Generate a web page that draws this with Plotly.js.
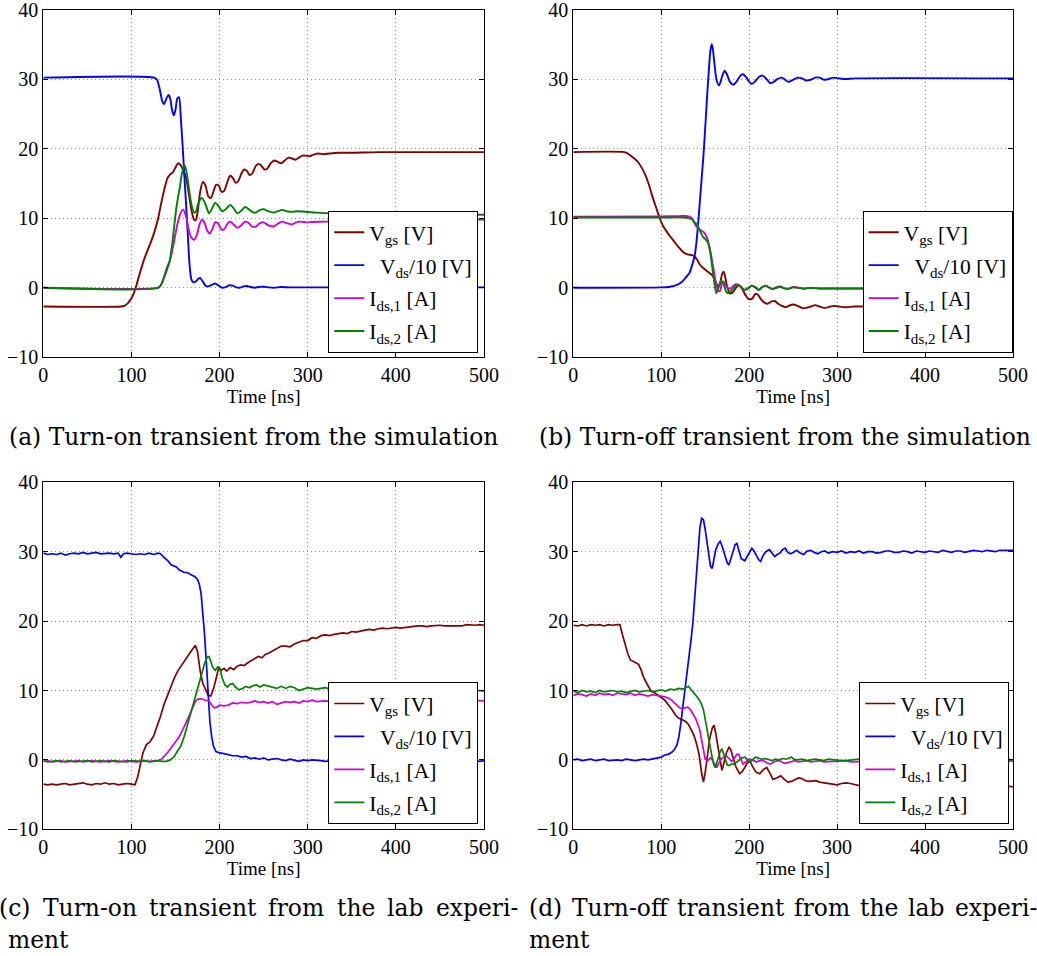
<!DOCTYPE html>
<html><head><meta charset="utf-8">
<script src="https://cdn.plot.ly/plotly-3.0.1.min.js"></script>
<style>html,body{margin:0;padding:0;background:#fff;} #chart{width:1037px;height:956px;}</style>
</head><body><div id="chart"></div>
<script>
// ---------- data (time in ns, value) ----------
const seriesNames = ['V<sub>gs</sub> [V]', '\u00a0\u00a0V<sub>ds</sub>/10 [V]', 'I<sub>ds,1</sub> [A]', 'I<sub>ds,2</sub> [A]'];
const seriesColors = ['#800000', '#0000ff', '#d000d0', '#008000'];
const xTicks = [0, 100, 200, 300, 400, 500];
const yTicks = [-10, 0, 10, 20, 30, 40];
const xTitle = 'Time [ns]';
const captions = [
  ['(a) Turn-on transient from the simulation'],
  ['(b) Turn-off transient from the simulation'],
  ['(c) Turn-on transient from the lab experi-', 'ment'],
  ['(d) Turn-off transient from the lab experi-', 'ment']
];

// (a) simulation, turn-on
const vgsA = [[0,-2.7],[88,-2.7],[92,-2.6],[96,-2.2],[100,-1.5],[103,-0.7],[106,0.5],[110,2.3],[115,4.3],[120,5.9],[125,7.6],[130,9.8],[134,12.3],[138,14.5],[141,15.8],[144,16.3],[147,16.6],[150,17.3],[153,17.9],[156,17.6],[159,16.8],[162,15.8],[165,13.6],[168,11.2],[171,9.8],[173,9.7],[175,10.8],[178,13.8],[181,15.2],[184,14.7],[187,13.2],[190,12.9],[193,13.8],[196,14.8],[199,14.7],[202,13.8],[205,13.9],[209,15.3],[212,16.1],[215,15.8],[218,15.1],[221,15.3],[225,16.5],[228,17.0],[231,16.8],[234,16.2],[237,16.4],[241,17.5],[244,17.8],[247,17.6],[251,17.0],[254,17.1],[258,17.9],[262,18.3],[266,18.1],[270,17.9],[274,18.3],[278,18.7],[282,18.6],[286,18.4],[290,18.7],[294,19.0],[298,19.0],[302,18.9],[306,19.1],[312,19.3],[318,19.2],[325,19.3],[335,19.4],[350,19.4],[380,19.5],[500,19.5]];
const vdsA = [[0,30.2],[126,30.2],[129,29.9],[132,28.6],[135,26.8],[137,26.4],[140,27.3],[142,27.7],[144,27.2],[146,25.6],[148,24.8],[150,25.6],[152,27.2],[154,27.4],[156,24.5],[158,20.5],[160,16.2],[162,12.0],[164,7.5],[166,3.2],[168,1.2],[170,0.8],[173,0.9],[176,1.3],[178,1.4],[181,0.9],[184,0.3],[187,0.2],[191,0.4],[195,0.6],[199,0.3],[203,0.0],[207,0.1],[211,0.35],[215,0.3],[219,0.05],[223,0.0],[227,0.2],[231,0.25],[235,0.1],[240,0.0],[245,0.12],[250,0.15],[256,0.05],[262,0.0],[270,0.1],[280,0.05],[300,0.05],[500,0.05]];
const ids1A = [[0,0],[130,0],[133,0.3],[136,1.2],[140,2.8],[144,4.1],[147,5.8],[150,7.8],[153,9.6],[156,10.8],[159,11.2],[162,10.2],[165,8.3],[168,7.2],[171,6.9],[174,7.5],[177,9.0],[180,9.8],[183,9.3],[186,8.2],[189,7.8],[192,8.5],[195,9.4],[198,9.3],[202,8.4],[205,8.4],[209,9.2],[212,9.5],[216,9.1],[220,8.6],[224,8.9],[229,9.5],[233,9.3],[237,8.8],[241,8.8],[246,9.3],[250,9.4],[255,9.0],[261,8.8],[266,9.2],[271,9.5],[276,9.3],[282,9.1],[287,9.4],[292,9.5],[298,9.4],[305,9.45],[320,9.5],[350,9.6],[400,9.7],[500,9.8]];
const ids2A = [[0,0],[131,0],[134,0.5],[137,1.4],[140,2.5],[143,3.6],[146,6.0],[148,8.3],[151,11.5],[153,13.1],[155,14.5],[157,16.2],[160,17.6],[162,17.0],[165,14.5],[168,12.0],[171,10.8],[173,10.9],[176,12.2],[180,12.9],[184,12.0],[188,10.7],[191,11.3],[195,12.2],[199,11.7],[203,11.0],[207,11.3],[212,11.9],[216,11.4],[220,10.7],[224,11.0],[229,11.6],[233,11.3],[237,10.9],[241,10.8],[246,11.2],[250,11.3],[255,11.0],[261,10.8],[266,11.0],[271,11.2],[276,11.0],[282,10.9],[288,11.0],[295,10.95],[310,10.8],[330,10.7],[400,10.6],[500,10.5]];

// (b) simulation, turn-off
const vgsB = [[0,19.5],[58,19.5],[62,19.3],[66,18.9],[70,18.5],[74,18.0],[78,17.2],[82,16.2],[86,14.8],[90,13.1],[94,11.6],[98,10.1],[102,8.9],[106,8.1],[110,7.4],[115,6.6],[120,5.8],[125,5.1],[130,4.8],[135,4.7],[138,4.5],[141,4.0],[144,3.3],[147,2.9],[150,2.6],[153,2.3],[157,1.9],[160,1.4],[163,0.5],[165,0.1],[167,0.6],[169,1.9],[171,2.3],[173,1.4],[175,0.1],[178,-0.8],[181,-0.7],[184,-0.2],[187,0.3],[190,0.2],[193,-0.4],[196,-1.1],[199,-1.6],[203,-1.6],[207,-0.9],[210,-1.0],[213,-1.6],[217,-2.1],[221,-2.3],[225,-2.0],[229,-1.9],[233,-2.3],[237,-2.6],[241,-2.8],[245,-2.6],[250,-2.4],[255,-2.6],[260,-2.9],[265,-2.9],[270,-2.7],[275,-2.5],[280,-2.7],[285,-2.9],[290,-2.8],[296,-2.6],[302,-2.7],[310,-2.8],[320,-2.7],[400,-2.7],[500,-2.7]];
const vdsB = [[0,0],[100,0.05],[110,0.15],[118,0.4],[124,0.9],[128,1.5],[132,2.1],[135,3.2],[138,4.6],[140,6.5],[142,9.3],[144,12.5],[146,15.8],[148,19.0],[150,23.0],[152,27.2],[154,31.0],[156,34.2],[157.5,35.0],[159,34.0],[161,31.6],[163,29.8],[166,29.1],[169,30.3],[172,31.2],[175,30.6],[178,29.6],[182,29.2],[186,29.7],[190,30.5],[193,30.7],[197,30.2],[200,29.6],[203,29.3],[207,29.7],[211,30.3],[215,30.5],[219,30.1],[224,29.4],[228,29.6],[232,30.0],[237,30.2],[241,29.9],[245,29.6],[250,29.9],[255,30.2],[260,30.1],[265,29.8],[270,29.9],[275,30.2],[280,30.2],[285,29.9],[290,30.0],[296,30.2],[302,30.1],[310,30.0],[320,30.1],[500,30.1]];
const ids1B = [[0,10.2],[100,10.25],[120,10.3],[130,10.3],[134,10.1],[137,9.5],[140,8.8],[143,8.4],[146,8.2],[149,7.9],[152,7.2],[155,5.8],[157,4.5],[159,3.0],[161,1.5],[163,0.2],[165,-0.5],[167,-0.4],[169,0.6],[171,0.9],[173,0.4],[176,-0.1],[179,-0.1],[182,0.3],[185,0.5],[188,0.4],[191,0.0],[195,-0.3],[199,0.0],[203,0.3],[207,0.0],[211,-0.3],[215,0.1],[219,0.3],[223,0.0],[227,-0.2],[231,0.1],[235,0.2],[240,-0.1],[245,-0.1],[250,0.1],[256,0.0],[262,-0.1],[270,0.0],[280,-0.1],[300,-0.1],[500,-0.1]];
const ids2B = [[0,10.1],[100,10.1],[125,10.1],[131,10.0],[135,9.8],[138,9.4],[141,9.0],[144,8.2],[147,7.4],[150,7.0],[153,6.5],[155,5.6],[157,3.9],[159,2.0],[161,0.2],[162.5,-0.8],[164,-0.4],[166,0.5],[168,1.0],[170,0.8],[172,0.1],[174,-0.6],[176,-0.8],[179,-0.5],[182,-0.1],[185,0.3],[188,0.4],[191,0.1],[195,-0.3],[199,-0.1],[203,0.3],[207,0.1],[211,-0.3],[215,0.1],[219,0.3],[223,0.0],[227,-0.2],[231,0.0],[235,0.15],[240,-0.1],[245,-0.15],[250,0.05],[256,0.0],[262,-0.15],[270,-0.05],[280,-0.1],[300,-0.1],[500,-0.1]];

// (c) lab, turn-on
const vgsC = [[0,-3.5],[5,-3.6],[10,-3.5],[15,-3.6],[20,-3.5],[25,-3.4],[30,-3.6],[35,-3.5],[40,-3.5],[45,-3.3],[50,-3.5],[55,-3.6],[60,-3.4],[65,-3.5],[70,-3.3],[75,-3.5],[80,-3.4],[85,-3.6],[90,-3.5],[95,-3.4],[100,-3.5],[104,-3.6],[107,-2.5],[110,-0.5],[113,1.0],[117,2.2],[121,2.6],[125,3.4],[129,4.8],[133,6.3],[137,8.0],[141,9.4],[145,10.8],[149,11.9],[153,12.9],[157,13.7],[161,14.3],[165,15.1],[169,15.9],[172.5,16.5],[175,15.6],[178,12.8],[181,11.0],[184,10.2],[187,9.3],[190,9.2],[193,10.2],[196,11.7],[199,13.3],[202,12.9],[205,13.2],[208,12.8],[212,13.3],[216,13.0],[220,13.5],[224,13.7],[228,13.6],[232,14.0],[236,14.3],[240,14.5],[244,14.9],[248,14.7],[252,15.2],[256,15.4],[260,15.7],[265,16.0],[270,16.4],[275,16.4],[280,16.3],[285,16.7],[290,17.0],[295,17.2],[300,17.2],[305,17.6],[310,17.5],[315,17.9],[320,18.0],[325,17.9],[330,18.1],[335,18.2],[340,18.3],[345,18.2],[350,18.5],[355,18.4],[360,18.6],[365,18.7],[370,18.8],[375,18.7],[380,18.9],[385,19.0],[390,18.9],[395,19.0],[400,19.1],[405,19.0],[410,19.1],[415,19.2],[420,19.2],[425,19.3],[430,19.3],[435,19.2],[440,19.3],[445,19.4],[450,19.4],[455,19.3],[460,19.3],[465,19.4],[470,19.4],[475,19.3],[480,19.5],[485,19.4],[490,19.4],[495,19.5],[500,19.4]];
const vdsC = [[0,29.8],[5,29.6],[10,29.7],[15,29.6],[20,29.8],[25,29.5],[30,29.7],[35,29.8],[40,29.7],[45,29.9],[50,29.7],[55,29.8],[60,29.9],[65,29.7],[70,29.8],[75,29.8],[80,29.7],[85,29.8],[88,29.2],[91,29.7],[95,29.8],[100,29.7],[105,29.6],[110,29.7],[115,29.6],[120,29.8],[125,29.6],[130,29.8],[133,29.7],[136,29.3],[139,29.0],[142,28.6],[145,28.1],[148,27.9],[151,27.8],[154,27.4],[157,27.2],[160,27.0],[163,27.0],[166,26.8],[169,26.7],[172,26.4],[175,26.0],[177,25.3],[179,24.0],[181,21.5],[183,18.0],[185,14.0],[187,9.0],[189,5.5],[191,3.4],[193,2.0],[196,1.2],[200,1.0],[205,0.9],[210,0.7],[215,0.6],[220,0.6],[225,0.4],[230,0.5],[235,0.2],[240,0.3],[245,0.1],[250,0.3],[255,0.0],[260,0.1],[265,0.2],[270,0.0],[275,-0.1],[280,0.1],[285,-0.1],[290,-0.2],[295,0.0],[300,-0.1],[305,0.0],[310,0.0],[315,-0.1],[320,-0.2],[325,-0.1],[330,-0.1],[335,0.0],[340,0.0],[345,-0.2],[350,-0.1],[355,-0.1],[360,-0.2],[365,0.0],[370,0.0],[375,-0.1],[380,-0.1],[385,-0.2],[390,-0.2],[395,-0.1],[400,-0.1],[405,0.0],[410,0.0],[415,-0.1],[420,-0.1],[425,-0.2],[430,-0.2],[435,-0.1],[440,-0.1],[445,0.0],[450,0.0],[455,-0.1],[460,-0.1],[465,-0.2],[470,-0.1],[475,-0.1],[480,-0.2],[485,-0.1],[490,-0.1],[495,-0.2],[500,-0.1]];
const ids1C = [[0,-0.2],[5,-0.1],[10,-0.3],[15,-0.2],[20,-0.1],[25,-0.3],[30,-0.2],[35,-0.2],[40,-0.1],[45,-0.3],[50,-0.2],[55,-0.1],[60,-0.2],[65,-0.3],[70,-0.2],[75,-0.1],[80,-0.2],[85,-0.3],[90,-0.2],[95,-0.1],[100,-0.2],[105,-0.3],[110,-0.2],[115,-0.1],[120,-0.2],[125,-0.2],[130,-0.1],[134,0.1],[138,0.6],[142,1.2],[146,1.9],[150,2.6],[154,3.3],[158,4.3],[162,5.3],[166,6.5],[170,7.7],[173,8.5],[176,8.8],[180,8.8],[184,8.6],[188,8.5],[191,7.9],[194,7.5],[197,7.6],[200,7.9],[205,7.8],[210,7.9],[215,8.2],[220,8.1],[225,8.3],[230,8.2],[235,8.3],[240,8.5],[245,8.3],[250,8.4],[255,8.2],[260,8.4],[265,8.0],[270,8.2],[275,8.4],[280,8.3],[285,8.4],[290,8.2],[295,8.5],[300,8.4],[305,8.6],[310,8.4],[315,8.5],[320,8.5],[325,8.4],[330,8.4],[335,8.6],[340,8.6],[345,8.4],[350,8.5],[355,8.5],[360,8.4],[365,8.6],[370,8.6],[375,8.5],[380,8.5],[385,8.6],[390,8.6],[395,8.4],[400,8.5],[405,8.5],[410,8.4],[415,8.6],[420,8.6],[425,8.5],[430,8.5],[435,8.6],[440,8.6],[445,8.4],[450,8.5],[455,8.5],[460,8.4],[465,8.6],[470,8.6],[475,8.5],[480,8.5],[485,8.6],[490,8.6],[495,8.5],[500,8.5]];
const ids2C = [[0,-0.1],[5,-0.3],[10,-0.2],[15,-0.1],[20,-0.3],[25,-0.2],[30,-0.1],[35,-0.3],[40,-0.2],[45,-0.2],[50,-0.1],[55,-0.3],[60,-0.2],[65,-0.1],[70,-0.2],[75,-0.3],[80,-0.1],[85,-0.2],[90,-0.2],[95,-0.3],[100,-0.1],[105,-0.2],[110,-0.2],[115,-0.1],[120,-0.3],[125,-0.2],[130,-0.1],[135,-0.2],[140,-0.2],[144,0.0],[148,0.4],[152,1.2],[156,2.0],[160,3.4],[164,5.2],[168,7.0],[172,8.6],[176,10.5],[180,12.4],[183,13.9],[186,14.8],[188,14.9],[190,14.2],[192,13.4],[195,12.9],[198,13.4],[200,13.3],[203,11.8],[206,10.8],[209,10.5],[212,10.9],[215,11.0],[218,10.5],[222,10.1],[226,10.3],[230,10.6],[234,10.4],[238,10.7],[242,10.8],[246,10.5],[250,10.8],[255,10.6],[260,10.4],[265,10.3],[270,10.6],[275,10.3],[280,10.6],[285,10.4],[290,10.0],[295,10.2],[300,10.4],[305,10.3],[310,10.2],[315,10.3],[320,10.4],[325,10.2],[330,10.3],[335,10.2],[340,10.1],[345,10.3],[350,10.3],[355,10.1],[360,10.2],[365,10.3],[370,10.4],[375,10.2],[380,10.2],[385,10.0],[390,10.1],[395,10.2],[400,10.3],[405,10.1],[410,10.2],[415,10.1],[420,10.0],[425,10.2],[430,10.2],[435,10.0],[440,10.1],[445,10.2],[450,10.2],[455,10.0],[460,10.0],[465,10.1],[470,10.1],[475,9.9],[480,10.0],[485,10.0],[490,9.9],[495,10.0],[500,9.9]];

// (d) lab, turn-off
const vgsD = [[0,19.4],[5,19.3],[10,19.5],[15,19.3],[20,19.5],[25,19.4],[30,19.5],[35,19.3],[40,19.5],[45,19.4],[50,19.5],[53,19.5],[56,18.0],[59,16.6],[62,15.3],[65,14.4],[68,14.2],[71,14.1],[74,13.8],[77,13.0],[80,11.9],[84,10.9],[88,10.0],[92,9.7],[96,9.4],[100,9.0],[104,8.6],[108,8.0],[112,7.3],[116,6.5],[120,6.0],[124,5.8],[128,5.5],[131,5.1],[134,4.4],[137,3.6],[140,2.4],[143,0.8],[146,-2.0],[148,-3.2],[150,-1.8],[152,0.3],[155,3.0],[158,4.6],[160,5.0],[162,3.8],[165,1.5],[167,-0.6],[169,-1.5],[171,-0.6],[174,1.0],[177,1.8],[179,1.5],[182,0.2],[185,-1.0],[189,-2.0],[192,-1.7],[195,-1.1],[198,-0.4],[201,-0.2],[204,-1.0],[208,-1.8],[212,-2.0],[216,-1.4],[220,-1.1],[224,-2.0],[227,-2.8],[231,-2.6],[236,-2.3],[240,-2.8],[244,-3.2],[248,-3.1],[252,-2.8],[256,-2.6],[260,-2.7],[264,-3.0],[268,-3.1],[272,-3.0],[276,-3.0],[280,-3.2],[285,-3.3],[290,-3.4],[295,-3.5],[300,-3.6],[305,-3.4],[310,-3.3],[315,-3.4],[320,-3.6],[325,-3.7],[330,-3.5],[335,-3.6],[340,-3.6],[345,-3.5],[350,-3.7],[355,-3.7],[360,-3.6],[365,-3.6],[370,-3.7],[375,-3.8],[380,-3.6],[385,-3.7],[390,-3.8],[395,-3.7],[400,-3.7],[405,-3.6],[410,-3.6],[415,-3.7],[420,-3.8],[425,-3.7],[430,-3.7],[435,-3.8],[440,-3.8],[445,-3.6],[450,-3.7],[455,-3.8],[460,-3.8],[465,-3.7],[470,-3.7],[475,-3.8],[480,-3.8],[485,-3.7],[490,-3.7],[495,-3.8],[500,-3.9]];
const vdsD = [[0,0.0],[5,0.1],[10,-0.1],[15,0.0],[20,0.1],[25,-0.1],[30,0.0],[35,0.1],[40,-0.1],[45,0.0],[50,0.0],[55,-0.1],[60,0.1],[65,0.0],[70,-0.1],[75,0.0],[80,0.1],[85,0.0],[90,0.1],[95,0.2],[100,0.4],[104,0.7],[108,0.8],[112,1.1],[115,1.5],[118,2.2],[120,3.3],[122,5.0],[124,7.0],[126,8.9],[128,10.9],[130,12.8],[132,14.9],[134,17.4],[136,19.8],[138,23.6],[140,27.3],[142,30.8],[144,33.5],[146,34.8],[148,34.6],[150,33.2],[152,31.2],[154,29.4],[156,27.9],[158,27.6],[160,28.8],[162,30.3],[165,31.2],[167,31.5],[169,30.9],[172,29.5],[175,28.4],[177,28.1],[179,28.9],[182,30.2],[184,31.0],[186,31.2],[188,30.3],[191,29.0],[195,28.7],[199,29.7],[203,30.5],[205,30.2],[208,29.4],[211,28.8],[213,28.6],[216,29.5],[219,30.0],[223,30.3],[226,29.8],[229,29.3],[232,29.6],[235,29.8],[238,30.3],[241,30.5],[244,29.9],[247,29.7],[250,29.9],[254,30.2],[258,29.8],[262,29.6],[266,30.1],[270,30.2],[274,29.9],[278,29.7],[282,30.0],[286,30.1],[290,29.8],[295,30.0],[300,29.9],[305,30.1],[310,29.8],[315,30.0],[320,29.9],[325,30.1],[330,29.8],[335,30.0],[340,30.0],[345,29.8],[350,29.9],[355,30.1],[360,30.1],[365,29.9],[370,29.9],[375,30.1],[380,30.0],[385,29.8],[390,30.1],[395,30.0],[400,29.9],[405,30.1],[410,30.0],[415,29.9],[420,30.2],[425,30.0],[430,29.9],[435,30.1],[440,30.1],[445,29.9],[450,30.0],[455,30.2],[460,30.1],[465,30.0],[470,30.2],[475,30.1],[480,30.0],[485,30.2],[490,30.2],[495,30.1],[500,30.2]];
const ids1D = [[0,9.3],[5,9.5],[10,9.4],[15,9.2],[20,9.5],[25,9.3],[30,9.6],[35,9.4],[40,9.5],[45,9.3],[50,9.6],[55,9.5],[60,9.4],[65,9.6],[70,9.3],[75,9.5],[80,9.4],[85,9.2],[90,9.4],[95,9.3],[100,9.2],[104,9.1],[108,8.9],[112,8.6],[115,8.2],[118,7.8],[121,7.5],[124,7.4],[127,7.5],[130,7.6],[133,7.3],[136,6.7],[139,6.0],[142,5.0],[144,4.2],[146,2.8],[148,1.1],[150,0.1],[153,-0.1],[156,0.3],[158,0.0],[161,-0.6],[163,-1.1],[165,-0.6],[168,0.1],[171,0.4],[174,0.6],[177,0.2],[180,-0.2],[183,0.2],[186,0.8],[188,0.8],[190,0.2],[193,-0.6],[196,-0.3],[200,0.1],[204,0.0],[208,-0.3],[212,-0.1],[216,-0.1],[220,-0.4],[224,-0.6],[228,-0.3],[232,-0.1],[236,-0.2],[240,-0.5],[244,-0.4],[248,-0.2],[252,-0.1],[256,-0.3],[260,-0.2],[265,-0.1],[270,-0.3],[275,-0.2],[280,-0.1],[285,-0.3],[290,-0.2],[295,-0.2],[300,-0.2],[305,-0.1],[310,-0.1],[315,-0.3],[320,-0.3],[325,-0.2],[330,-0.2],[335,-0.1],[340,-0.1],[345,-0.2],[350,-0.2],[355,-0.3],[360,-0.3],[365,-0.2],[370,-0.2],[375,-0.1],[380,-0.1],[385,-0.2],[390,-0.2],[395,-0.3],[400,-0.3],[405,-0.2],[410,-0.2],[415,-0.1],[420,-0.1],[425,-0.2],[430,-0.2],[435,-0.3],[440,-0.3],[445,-0.2],[450,-0.2],[455,-0.1],[460,-0.1],[465,-0.2],[470,-0.2],[475,-0.3],[480,-0.3],[485,-0.2],[490,-0.2],[495,-0.1],[500,-0.2]];
const ids2D = [[0,9.9],[5,9.7],[10,10.0],[15,9.8],[20,9.9],[25,9.7],[30,10.0],[35,9.8],[40,9.9],[45,10.0],[50,9.8],[55,9.9],[60,9.7],[65,9.9],[70,10.0],[75,9.8],[80,9.9],[85,10.0],[90,9.8],[95,10.0],[100,10.1],[105,9.9],[110,10.2],[115,10.1],[120,10.3],[125,10.2],[128,10.4],[131,10.6],[134,10.1],[137,9.7],[140,9.2],[143,8.7],[146,8.0],[148,7.2],[150,6.0],[152,4.5],[154,3.0],[156,1.5],[158,0.3],[160,-0.8],[161.5,-1.1],[163,-0.5],[165,0.5],[167,1.2],[169,1.6],[171,0.8],[173,-0.2],[175,-0.7],[177,-0.8],[180,-0.6],[183,-0.6],[186,-0.3],[189,0.0],[192,0.3],[195,0.4],[198,0.0],[201,-0.3],[204,0.0],[207,0.4],[210,0.3],[214,0.1],[218,0.2],[222,0.0],[226,-0.1],[230,0.1],[234,0.0],[238,0.2],[242,0.1],[246,0.3],[248,0.4],[251,0.1],[255,0.0],[260,0.1],[265,-0.1],[270,0.0],[275,0.1],[280,0.0],[285,-0.1],[290,0.1],[295,0.0],[300,0.0],[305,-0.1],[310,-0.1],[315,0.0],[320,0.0],[325,0.1],[330,0.1],[335,0.0],[340,0.0],[345,-0.1],[350,-0.1],[355,0.0],[360,0.0],[365,0.1],[370,0.1],[375,0.0],[380,0.0],[385,-0.1],[390,-0.1],[395,0.0],[400,0.0],[405,0.1],[410,0.1],[415,0.0],[420,0.0],[425,-0.1],[430,-0.1],[435,0.0],[440,0.0],[445,0.1],[450,0.1],[455,0.0],[460,0.0],[465,-0.1],[470,-0.1],[475,0.0],[480,0.0],[485,0.1],[490,0.1],[495,0.0],[500,0.0]];

const panels = [
  {series:[vgsA, vdsA, ids1A, ids2A], sim:true},
  {series:[vgsB, vdsB, ids1B, ids2B], sim:true},
  {series:[vgsC, vdsC, ids1C, ids2C], sim:false},
  {series:[vgsD, vdsD, ids1D, ids2D], sim:false}
];

// ---------- layout geometry (pixels) ----------
const W = 1037, H = 956;
const FX = x => x / W, FY = y => 1 - y / H;
const boxes = [
  {l:43.3, r:484,  t:9.5,   b:357.3, legR:478.3, legB:352.7},
  {l:573.3, r:1013, t:9.5,  b:357.3, legR:1012.7, legB:352.7},
  {l:43.3, r:484,  t:482.3, b:829.3, legR:478.3, legB:824},
  {l:573.3, r:1013, t:482.3, b:829.3, legR:1009.3, legB:824}
];
const SERIF = 'Liberation Serif, Times New Roman, serif';
const CAPFONT = 'DejaVu Serif';
const CAPSIZE = 23.4;

const traces = [];
const layout = {
  width: W, height: H, margin:{l:0,r:0,t:0,b:0},
  paper_bgcolor:'#fff', plot_bgcolor:'#fff', showlegend:true,
  font:{family:SERIF, size:20, color:'#000'},
  annotations: []
};

panels.forEach((p, i) => {
  const k = i + 1, sx = k === 1 ? '' : String(k);
  const bx = boxes[i];
  const legKey = 'legend' + sx;
  p.series.forEach((s, j) => {
    traces.push({
      type:'scatter', mode:'lines',
      x: s.map(d => d[0]), y: s.map(d => d[1]),
      name: seriesNames[j], legend: legKey, legendgroup: legKey + '_' + j,
      xaxis: 'x' + sx, yaxis: 'y' + sx,
      line: p.sim ? {color: seriesColors[j], width:1.9, shape:'spline', smoothing:0.7}
                  : {color: seriesColors[j], width:1.7},
      hoverinfo:'skip'
    });
  });
  const common = {
    showline:true, linecolor:'#000', linewidth:1, mirror:'ticks',
    ticks:'inside', ticklen:5, tickwidth:1, tickcolor:'#000',
    showgrid:true, gridcolor:'#9a9a9a', griddash:'1px,3px', gridwidth:1,
    zeroline:false, tickfont:{family:SERIF, size:20, color:'#000'},
    ticklabeloverflow:'allow', fixedrange:true
  };
  layout['xaxis' + sx] = Object.assign({}, common, {
    domain:[FX(bx.l), FX(bx.r)], anchor:'y' + sx, range:[0,500],
    tickmode:'array', tickvals:xTicks, ticktext:xTicks.map(String),
    title:{text:xTitle, font:{family:SERIF, size:19, color:'#000'}, standoff:0}
  });
  layout['yaxis' + sx] = Object.assign({}, common, {
    domain:[FY(bx.b), FY(bx.t)], anchor:'x' + sx, range:[-10,40],
    tickmode:'array', tickvals:yTicks, ticktext:yTicks.map(v => v < 0 ? '\u2212' + Math.abs(v) : String(v))
  });
  layout[legKey] = {
    x: FX(bx.legR), y: FY(bx.legB), xanchor:'right', yanchor:'bottom',
    xref:'paper', yref:'paper',
    bgcolor:'#fff', bordercolor:'#000', borderwidth:1,
    font:{family:SERIF, size:21.5, color:'#000'},
    traceorder:'grouped', tracegroupgap:2, itemwidth:30
  };
});

// captions (justify the first line of two-line captions)
const cv = document.createElement('canvas').getContext('2d');
cv.font = CAPSIZE + 'px "' + CAPFONT + '"';
function addText(txt, x, y, anchor) {
  layout.annotations.push({text:txt, xref:'paper', yref:'paper', x:FX(x), y:FY(y),
    xanchor:anchor, yanchor:'middle', showarrow:false,
    font:{family:CAPFONT, size:CAPSIZE, color:'#000'}});
}
addText(captions[0][0], 253, 437, 'center');
addText(captions[1][0], 784.5, 437, 'center');
function justify(line, left, right, y) {
  const words = line.split(' ');
  const widths = words.map(w => cv.measureText(w).width);
  const total = widths.reduce((a, b) => a + b, 0);
  const gap = (right - left - total) / (words.length - 1);
  let x = left;
  words.forEach((w, i) => { addText(w, x, y, 'left'); x += widths[i] + gap; });
}
justify(captions[2][0], -3, 516, 908);
addText(captions[2][1], 6, 940, 'left');
justify(captions[3][0], 527, 1035, 908);
addText(captions[3][1], 527, 940, 'left');

Plotly.newPlot('chart', traces, layout, {displayModeBar:false, staticPlot:true});
</script></body></html>
